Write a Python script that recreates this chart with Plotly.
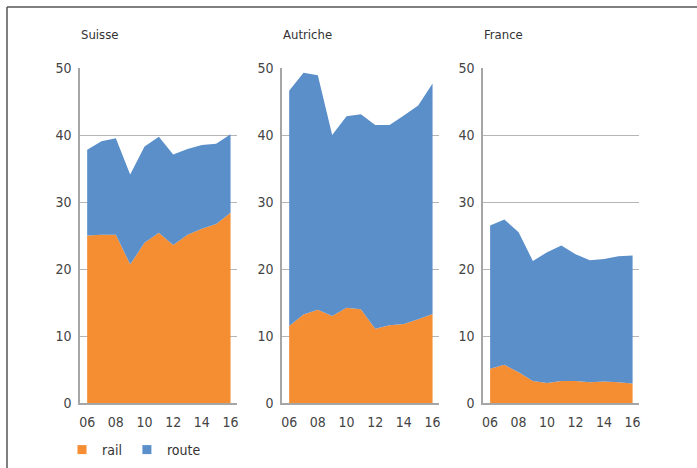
import plotly.graph_objects as go

years = ["06", "07", "08", "09", "10", "11", "12", "13", "14", "15", "16"]
tick_labels = ["06", "08", "10", "12", "14", "16"]
countries = ["Suisse", "Autriche", "France"]
series_names = ["rail", "route"]

suisse_rail = [25.0, 25.1, 25.1, 20.7, 23.9, 25.4, 23.6, 25.1, 26.0, 26.7, 28.4]
suisse_total = [37.8, 39.05, 39.5, 34.1, 38.3, 39.75, 37.1, 37.9, 38.5, 38.7, 40.1]
autriche_rail = [11.5, 13.2, 13.9, 13.0, 14.2, 14.0, 11.1, 11.6, 11.8, 12.5, 13.3]
autriche_total = [46.6, 49.3, 48.9, 40.0, 42.8, 43.1, 41.5, 41.5, 42.9, 44.4, 47.7]
france_rail = [5.1, 5.7, 4.6, 3.3, 3.0, 3.3, 3.3, 3.1, 3.2, 3.1, 2.9]
france_total = [26.5, 27.4, 25.5, 21.2, 22.5, 23.5, 22.2, 21.3, 21.5, 21.9, 22.0]

rail = [suisse_rail, autriche_rail, france_rail]
total = [suisse_total, autriche_total, france_total]

ORANGE = "#F58D33"
BLUE = "#5B8FC9"
COLORS = [ORANGE, BLUE]
FONT = "DejaVu Sans Condensed, Liberation Sans Narrow, Liberation Sans, Arial"
W, H = 697, 468

xdoms = [(80, 237), (282, 439), (483, 639)]
ydom = [1 - 403 / H, 1 - 68 / H]
xidx = list(range(len(years)))

fig = go.Figure()
for i, c in enumerate(countries):
    ax = "" if i == 0 else str(i + 1)
    route = [round(t - r, 2) for t, r in zip(total[i], rail[i])]
    fig.add_trace(go.Scatter(
        x=xidx, y=rail[i], name="rail", stackgroup=f"s{i}", mode="none",
        fillcolor=ORANGE, xaxis="x" + ax, yaxis="y" + ax, showlegend=False))
    fig.add_trace(go.Scatter(
        x=xidx, y=route, name="route", stackgroup=f"s{i}", mode="none",
        fillcolor=BLUE, xaxis="x" + ax, yaxis="y" + ax, showlegend=False))
    fig.layout["xaxis" + ax] = dict(
        domain=[xdoms[i][0] / W, xdoms[i][1] / W], anchor="y" + ax,
        range=[-0.5, 10.45], tickmode="array",
        tickvals=[years.index(t) for t in tick_labels], ticktext=tick_labels,
        showgrid=False, zeroline=False, showline=True, linecolor="#a6a6a6",
        linewidth=1.5, ticks="", ticklabelstandoff=5,
        tickfont=dict(family=FONT, size=14, color="#444"), fixedrange=True)
    fig.layout["yaxis" + ax] = dict(
        domain=ydom, anchor="x" + ax, range=[0, 50], tickvals=[0, 10, 20, 30, 40, 50],
        showgrid=True, gridcolor="#b5b5b5", gridwidth=1, zeroline=False,
        showline=True, linecolor="#a6a6a6", linewidth=1.5, ticks="",
        ticklabelstandoff=4, tickfont=dict(family=FONT, size=14, color="#444"),
        fixedrange=True)
    fig.add_annotation(text=c, xref="paper", yref="paper",
                       x=(xdoms[i][0] - 1) / W, y=1 - 35 / H, xanchor="left",
                       yanchor="middle", showarrow=False,
                       font=dict(family=FONT, size=13, color="#333"))

# legend entries (small squares)
for name, col in zip(series_names, COLORS):
    fig.add_trace(go.Scatter(x=[None], y=[None], name=name, mode="markers",
                             marker=dict(symbol="square", size=9, color=col),
                             showlegend=True))

fig.add_shape(type="line", xref="paper", yref="paper", x0=7 / W, x1=7 / W,
              y0=0, y1=1 - 7 / H, line=dict(color="#555", width=1.5))
fig.add_shape(type="line", xref="paper", yref="paper", x0=7 / W, x1=1,
              y0=1 - 7 / H, y1=1 - 7 / H, line=dict(color="#555", width=1.5))

fig.update_layout(
    width=W, height=H, margin=dict(l=0, r=0, t=0, b=0, autoexpand=False),
    paper_bgcolor="white", plot_bgcolor="white",
    font=dict(family=FONT, color="#444"),
    legend=dict(orientation="h", x=62 / W, y=1 - 450 / H, xanchor="left",
                yanchor="middle",
                font=dict(family=FONT, size=14, color="#333"),
                itemwidth=30, traceorder="normal"),
)
fig.write_html("out.html", config={"displayModeBar": False},
               post_script="document.body.style.margin='0';document.body.style.padding='0';")
